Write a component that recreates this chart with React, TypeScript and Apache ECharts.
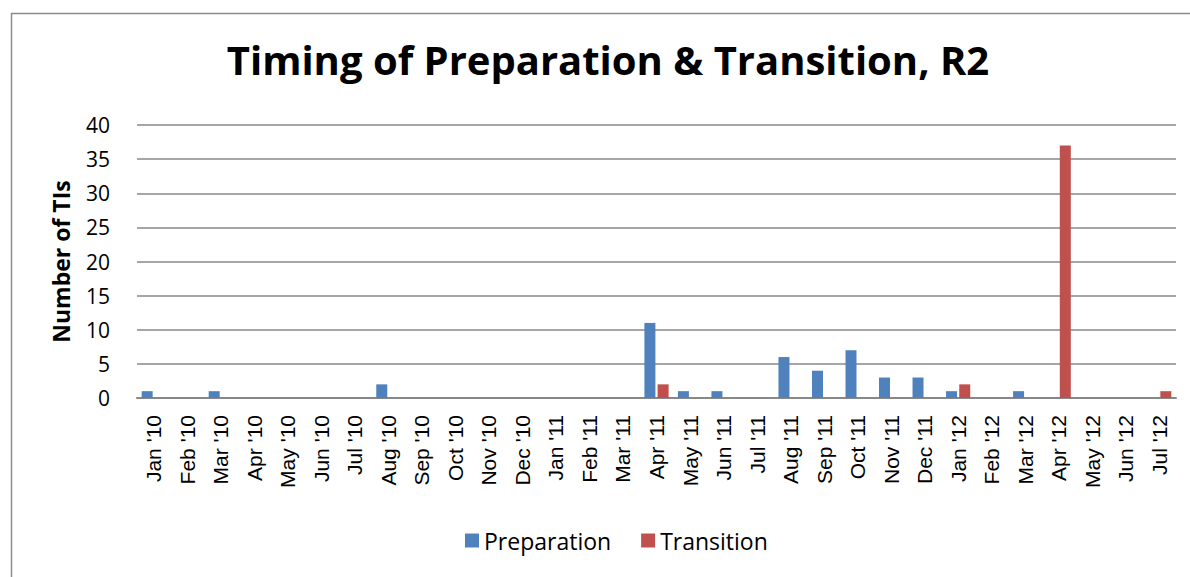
import React, { useEffect, useRef } from "react";
import * as echarts from "echarts";

const categories = [
  "Jan '10", "Feb '10", "Mar '10", "Apr '10", "May '10", "Jun '10", "Jul '10", "Aug '10",
  "Sep '10", "Oct '10", "Nov '10", "Dec '10", "Jan '11", "Feb '11", "Mar '11", "Apr '11",
  "May '11", "Jun '11", "Jul '11", "Aug '11", "Sep '11", "Oct '11", "Nov '11", "Dec '11",
  "Jan '12", "Feb '12", "Mar '12", "Apr '12", "May '12", "Jun '12", "Jul '12",
];
const preparation = [1, 0, 1, 0, 0, 0, 0, 2, 0, 0, 0, 0, 0, 0, 0, 11, 1, 1, 0, 6, 4, 7, 3, 3, 1, 0, 1, 0, 0, 0, 0];
const transition = [0, 0, 0, 0, 0, 0, 0, 0, 0, 0, 0, 0, 0, 0, 0, 2, 0, 0, 0, 0, 0, 0, 0, 0, 2, 0, 0, 37, 0, 0, 1];
const yTicks = { min: 0, max: 40, interval: 5 };

const FONT = "'Open Sans', 'Liberation Sans', sans-serif";
const ARIAL = "'Liberation Sans', Arial, sans-serif";

export default function App() {
  const ref = useRef<HTMLDivElement>(null);
  useEffect(() => {
    const chart = echarts.init(ref.current!, null, { renderer: "svg" });
    chart.setOption({
      animation: false,
      backgroundColor: "#ffffff",
      textStyle: { fontFamily: FONT },
      graphic: [
        {
          type: "rect",
          shape: { x: 11.5, y: 13.5, width: 1200, height: 600 },
          style: { fill: "none", stroke: "#8c8c8c", lineWidth: 1.5 },
          silent: true,
        },
      ],
      title: {
        text: "Timing of Preparation & Transition, R2",
        left: 603,
        textAlign: "center",
        top: 34,
        textStyle: { fontFamily: FONT, fontSize: 40, fontWeight: "bold", color: "#000" },
      },
      legend: {
        bottom: 20,
        left: 460,
        itemWidth: 14,
        itemHeight: 14,
        itemGap: 30,
        icon: "rect",
        textStyle: { fontFamily: FONT, fontSize: 23, color: "#000" },
        data: ["Preparation", "Transition"],
      },
      grid: { left: 137, right: 14, top: 125, bottom: 179, containLabel: false },
      xAxis: {
        type: "category",
        data: categories,
        axisLine: { lineStyle: { color: "#888", width: 2 } },
        axisTick: { show: false },
        axisLabel: { rotate: 90, fontSize: 21, color: "#000", margin: 17, interval: 0, fontFamily: ARIAL },
      },
      yAxis: {
        type: "value",
        min: yTicks.min,
        max: yTicks.max,
        interval: yTicks.interval,
        name: "Number of TIs",
        nameLocation: "middle",
        nameGap: 65,
        nameTextStyle: { fontSize: 23, fontWeight: "bold", color: "#000", fontFamily: FONT },
        axisLine: { show: false },
        axisTick: { show: false },
        axisLabel: { fontSize: 21, color: "#000", margin: 27, fontFamily: FONT },
        splitLine: { lineStyle: { color: "#888", width: 1.5 } },
      },
      series: [
        {
          name: "Preparation",
          type: "bar",
          data: preparation,
          barWidth: 11,
          barGap: "20%",
          itemStyle: { color: "#4f81bd" },
        },
        {
          name: "Transition",
          type: "bar",
          data: transition,
          barWidth: 11,
          itemStyle: { color: "#c0504d" },
        },
      ],
    });
    return () => chart.dispose();
  }, []);
  return (
    <div
      ref={ref}
      style={{ position: "fixed", left: 0, top: 0, width: 1190, height: 577 }}
    />
  );
}
